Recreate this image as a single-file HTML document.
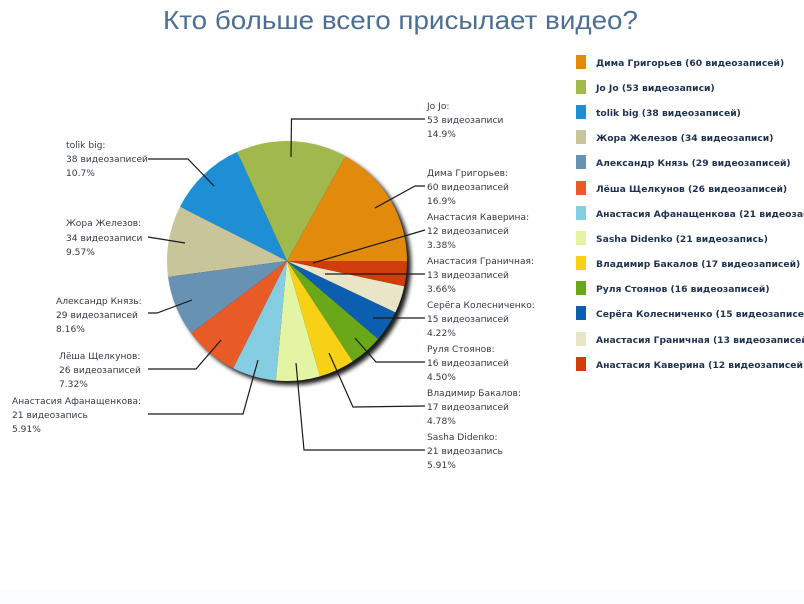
<!DOCTYPE html>
<html>
<head>
<meta charset="utf-8">
<style>
  html, body { margin:0; padding:0; background:#ffffff; }
  body { width:804px; height:604px; overflow:hidden; }
  svg { display:block; }
  .lbl { font-family:"DejaVu Sans","Liberation Sans",sans-serif; font-size:9.1px; fill:#333a44; }
  .leg { font-family:"DejaVu Sans","Liberation Sans",sans-serif; font-size:9.2px; font-weight:bold; fill:#1f3350; }
  .ttl { font-family:"Liberation Sans","DejaVu Sans",sans-serif; font-size:26px; fill:#4e6f95; }
  .cn { fill:none; stroke:#1a1a1a; stroke-width:1.2; }
</style>
</head>
<body>
<svg width="804" height="604" viewBox="0 0 804 604" xmlns="http://www.w3.org/2000/svg">
  <defs>
    <filter id="sh" x="-20%" y="-20%" width="140%" height="140%">
      <feGaussianBlur stdDeviation="2.2"/>
    </filter>
  </defs>
  <rect x="0" y="0" width="804" height="604" fill="#ffffff"/>
  <rect x="0" y="590" width="804" height="14" fill="#fbfcfd"/>

  <!-- Title -->
  <text class="ttl" x="163" y="29" textLength="475" lengthAdjust="spacingAndGlyphs">Кто больше всего присылает видео?</text>

  <!-- Shadow -->
  <circle cx="291" cy="265" r="120" fill="#000" opacity="0.9" filter="url(#sh)"/>

  <!-- Pie slices (cx=287, cy=261, r=120) -->
  <path d="M287 261 L407 261 A120 120 0 0 0 345.45 156.20 Z" fill="#e28a0b"/>
  <path d="M287 261 L345.45 156.20 A120 120 0 0 0 237.07 151.88 Z" fill="#a1b84c"/>
  <path d="M287 261 L237.07 151.88 A120 120 0 0 0 179.96 206.76 Z" fill="#1e8fd5"/>
  <path d="M287 261 L179.96 206.76 A120 120 0 0 0 168.06 276.89 Z" fill="#c8c59b"/>
  <path d="M287 261 L168.06 276.89 A120 120 0 0 0 191.20 333.26 Z" fill="#6892b3"/>
  <path d="M287 261 L191.20 333.26 A120 120 0 0 0 233.24 368.28 Z" fill="#e85b26"/>
  <path d="M287 261 L233.24 368.28 A120 120 0 0 0 275.88 380.48 Z" fill="#85cde0"/>
  <path d="M287 261 L275.88 380.48 A120 120 0 0 0 320.01 376.37 Z" fill="#e3f4a2"/>
  <path d="M287 261 L320.01 376.37 A120 120 0 0 0 352.72 361.40 Z" fill="#f7d116"/>
  <path d="M287 261 L352.72 361.40 A120 120 0 0 0 378.18 339.01 Z" fill="#6aa81a"/>
  <path d="M287 261 L378.18 339.01 A120 120 0 0 0 395.44 312.37 Z" fill="#0c5fb0"/>
  <path d="M287 261 L395.44 312.37 A120 120 0 0 0 404.30 286.30 Z" fill="#e9e6c7"/>
  <path d="M287 261 L404.30 286.30 A120 120 0 0 0 407 261 Z" fill="#d03d0a"/>

  <!-- Connectors right -->
  <polyline class="cn" points="425,119 291.5,119 291,157"/>
  <polyline class="cn" points="425,186 415,186 375,208"/>
  <polyline class="cn" points="425,230 313,263"/>
  <polyline class="cn" points="425,274 325,274"/>
  <polyline class="cn" points="425,318 373,318"/>
  <polyline class="cn" points="425,362 376,362 355,338"/>
  <polyline class="cn" points="425,406 353,407 329,353"/>
  <polyline class="cn" points="425,450 304,450 296,363"/>

  <!-- Connectors left -->
  <polyline class="cn" points="148,159 188,159 214,186"/>
  <polyline class="cn" points="148,237 185,243"/>
  <polyline class="cn" points="148,313 157,313 192,300"/>
  <polyline class="cn" points="148,369 196,369 221,340"/>
  <polyline class="cn" points="148,414 243,414 258,360"/>

  <!-- Right labels -->
  <text class="lbl" x="427" y="109">Jo Jo:</text>
  <text class="lbl" x="427" y="123">53 видеозаписи</text>
  <text class="lbl" x="427" y="137">14.9%</text>

  <text class="lbl" x="427" y="176">Дима Григорьев:</text>
  <text class="lbl" x="427" y="190">60 видеозаписей</text>
  <text class="lbl" x="427" y="204">16.9%</text>

  <text class="lbl" x="427" y="220">Анастасия Каверина:</text>
  <text class="lbl" x="427" y="234">12 видеозаписей</text>
  <text class="lbl" x="427" y="248">3.38%</text>

  <text class="lbl" x="427" y="264">Анастасия Граничная:</text>
  <text class="lbl" x="427" y="278">13 видеозаписей</text>
  <text class="lbl" x="427" y="292">3.66%</text>

  <text class="lbl" x="427" y="308">Серёга Колесниченко:</text>
  <text class="lbl" x="427" y="322">15 видеозаписей</text>
  <text class="lbl" x="427" y="336">4.22%</text>

  <text class="lbl" x="427" y="352">Руля Стоянов:</text>
  <text class="lbl" x="427" y="366">16 видеозаписей</text>
  <text class="lbl" x="427" y="380">4.50%</text>

  <text class="lbl" x="427" y="396">Владимир Бакалов:</text>
  <text class="lbl" x="427" y="410">17 видеозаписей</text>
  <text class="lbl" x="427" y="424">4.78%</text>

  <text class="lbl" x="427" y="440">Sasha Didenko:</text>
  <text class="lbl" x="427" y="454">21 видеозапись</text>
  <text class="lbl" x="427" y="468">5.91%</text>

  <!-- Left labels -->
  <text class="lbl" x="66" y="148">tolik big:</text>
  <text class="lbl" x="66" y="162">38 видеозаписей</text>
  <text class="lbl" x="66" y="176">10.7%</text>

  <text class="lbl" x="66" y="226">Жора Железов:</text>
  <text class="lbl" x="66" y="241">34 видеозаписи</text>
  <text class="lbl" x="66" y="255">9.57%</text>

  <text class="lbl" x="56" y="304">Александр Князь:</text>
  <text class="lbl" x="56" y="318">29 видеозаписей</text>
  <text class="lbl" x="56" y="332">8.16%</text>

  <text class="lbl" x="59" y="359">Лёша Щелкунов:</text>
  <text class="lbl" x="59" y="373">26 видеозаписей</text>
  <text class="lbl" x="59" y="387">7.32%</text>

  <text class="lbl" x="12" y="404">Анастасия Афанащенкова:</text>
  <text class="lbl" x="12" y="418">21 видеозапись</text>
  <text class="lbl" x="12" y="432">5.91%</text>

  <!-- Legend -->
  <rect x="576" y="55" width="10" height="14" fill="#e28a0b"/>
  <text class="leg" x="596" y="66">Дима Григорьев (60 видеозаписей)</text>

  <rect x="576" y="80" width="10" height="14" fill="#a1b84c"/>
  <text class="leg" x="596" y="91">Jo Jo (53 видеозаписи)</text>

  <rect x="576" y="105" width="10" height="14" fill="#1e8fd5"/>
  <text class="leg" x="596" y="116">tolik big (38 видеозаписей)</text>

  <rect x="576" y="130" width="10" height="14" fill="#c8c59b"/>
  <text class="leg" x="596" y="141">Жора Железов (34 видеозаписи)</text>

  <rect x="576" y="155" width="10" height="14" fill="#6892b3"/>
  <text class="leg" x="596" y="166">Александр Князь (29 видеозаписей)</text>

  <rect x="576" y="181" width="10" height="14" fill="#e85b26"/>
  <text class="leg" x="596" y="192">Лёша Щелкунов (26 видеозаписей)</text>

  <rect x="576" y="206" width="10" height="14" fill="#85cde0"/>
  <text class="leg" x="596" y="217">Анастасия Афанащенкова (21 видеозапись)</text>

  <rect x="576" y="231" width="10" height="14" fill="#e3f4a2"/>
  <text class="leg" x="596" y="242">Sasha Didenko (21 видеозапись)</text>

  <rect x="576" y="256" width="10" height="14" fill="#f7d116"/>
  <text class="leg" x="596" y="267">Владимир Бакалов (17 видеозаписей)</text>

  <rect x="576" y="281" width="10" height="14" fill="#6aa81a"/>
  <text class="leg" x="596" y="292">Руля Стоянов (16 видеозаписей)</text>

  <rect x="576" y="306" width="10" height="14" fill="#0c5fb0"/>
  <text class="leg" x="596" y="317">Серёга Колесниченко (15 видеозаписей)</text>

  <rect x="576" y="332" width="10" height="14" fill="#e9e6c7"/>
  <text class="leg" x="596" y="343">Анастасия Граничная (13 видеозаписей)</text>

  <rect x="576" y="357" width="10" height="14" fill="#d03d0a"/>
  <text class="leg" x="596" y="368">Анастасия Каверина (12 видеозаписей)</text>
</svg>
</body>
</html>
